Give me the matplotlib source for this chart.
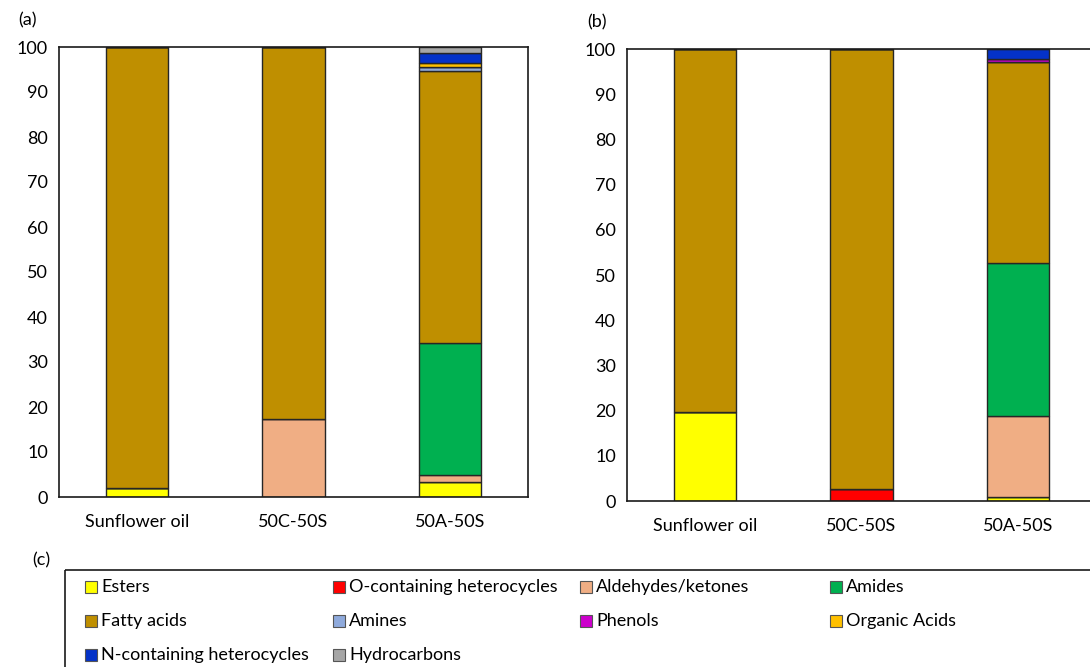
import matplotlib.pyplot as plt
import numpy as np
from matplotlib.patches import Rectangle

plt.rcParams['font.family'] = ['Lato', 'DejaVu Sans']
plt.rcParams['font.size'] = 13

samples = ["Sunflower oil", "50C-50S", "50A-50S"]
groups = ["Esters", "O-containing heterocycles", "Aldehydes/ketones", "Amides",
          "Fatty acids", "Amines", "Phenols", "Organic Acids",
          "N-containing heterocycles", "Hydrocarbons"]
colors = ["#FFFF00", "#FF0000", "#F0AE84", "#00B050",
          "#BF8F00", "#8FAADC", "#CC00CC", "#FFC000",
          "#0432C8", "#A6A6A6"]

# percent of each group, per sample (rows follow groups)
panel_a = np.array([
    [2.0, 0.0, 3.4],    # Esters
    [0.0, 0.0, 0.0],    # O-containing heterocycles
    [0.0, 17.3, 1.5],   # Aldehydes/ketones
    [0.0, 0.0, 29.3],   # Amides
    [98.0, 82.7, 60.5], # Fatty acids
    [0.0, 0.0, 0.9],    # Amines
    [0.0, 0.0, 0.0],    # Phenols
    [0.0, 0.0, 0.8],    # Organic Acids
    [0.0, 0.0, 2.3],    # N-containing heterocycles
    [0.0, 0.0, 1.3],    # Hydrocarbons
])
panel_b = np.array([
    [19.7, 0.0, 0.8],
    [0.0, 2.6, 0.0],
    [0.0, 0.0, 18.0],
    [0.0, 0.0, 33.9],
    [80.3, 97.4, 44.5],
    [0.0, 0.0, 0.0],
    [0.0, 0.0, 0.6],
    [0.0, 0.0, 0.0],
    [0.0, 0.0, 2.2],
    [0.0, 0.0, 0.0],
])

W, H = 1090, 667
fig = plt.figure(figsize=(W / 100, H / 100), dpi=100)


def px_axes(left, top, right, bottom):
    return fig.add_axes([left / W, 1 - bottom / H, (right - left) / W, (bottom - top) / H])


def draw_panel(ax, data):
    x = np.arange(len(samples))
    base = np.zeros(len(samples))
    for vals, col in zip(data, colors):
        ax.bar(x, vals, 0.4, bottom=base, color=col, edgecolor="#262626", linewidth=1.0)
        base += vals
    ax.set_xlim(-0.5, 2.5)
    ax.set_ylim(0, 100)
    ax.set_yticks(range(0, 101, 10))
    ax.set_xticks(x)
    ax.set_xticklabels(samples)
    ax.tick_params(length=0, pad=8)
    ax.tick_params(axis="x", pad=12)
    for s in ax.spines.values():
        s.set_linewidth(1.2)
        s.set_color("#1a1a1a")


ax_a = px_axes(59, 47, 528, 497)
draw_panel(ax_a, panel_a)
ax_b = px_axes(627, 49, 1096, 501)
draw_panel(ax_b, panel_b)

fig.text(18 / W, 1 - 20 / H, "(a)", va="center", ha="left")
fig.text(587 / W, 1 - 22 / H, "(b)", va="center", ha="left")
fig.text(32 / W, 1 - 560 / H, "(c)", va="center", ha="left")

# legend panel drawn in pixel coordinates
lg = fig.add_axes([0, 0, 1, 1], zorder=-1)
lg.set_xlim(0, W)
lg.set_ylim(H, 0)
lg.axis("off")
lg.add_patch(Rectangle((65, 570), 1100, 200, fill=False, edgecolor="#1a1a1a", linewidth=1.2))
col_x = [85, 333, 580, 830]
row_y = [587, 621, 655]
for i, (name, col) in enumerate(zip(groups, colors)):
    cx = col_x[i % 4]
    cy = row_y[i // 4]
    lg.add_patch(Rectangle((cx, cy - 6), 12, 12, facecolor=col, edgecolor="#555555", linewidth=0.8))
    lg.text(cx + 16, cy, name, va="center", ha="left")

fig.savefig("out.png", dpi=100)
